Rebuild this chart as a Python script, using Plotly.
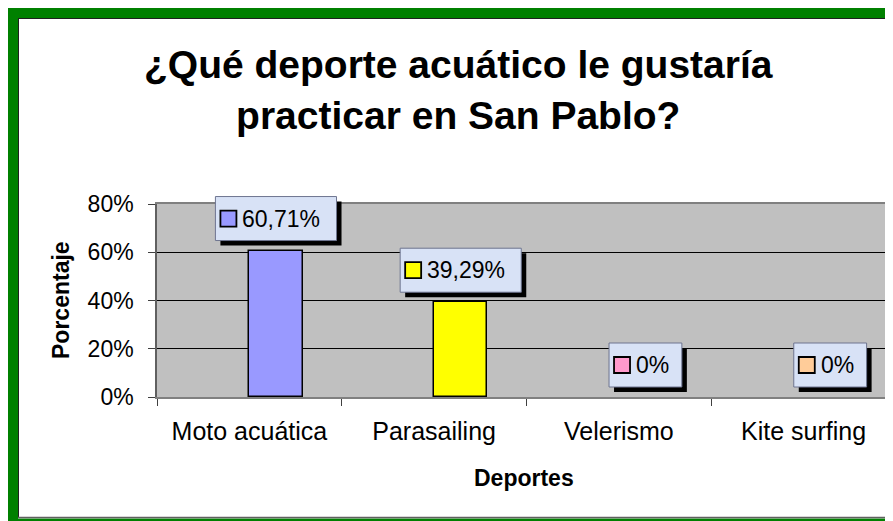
import plotly.graph_objects as go

# ---------------- data ----------------
categories = ["Moto acuática", "Parasailing", "Velerismo", "Kite surfing"]
values = [60.71, 39.29, 0, 0]
value_labels = ["60,71%", "39,29%", "0%", "0%"]
bar_colors = ["#9999FF", "#FFFF00", "#FF99CC", "#FFCC99"]
y_ticks = [0, 20, 40, 60, 80]
y_tick_labels = ["0%", "20%", "40%", "60%", "80%"]
title_lines = ["¿Qué deporte acuático le gustaría", "practicar en San Pablo?"]
x_title = "Deportes"
y_title = "Porcentaje"

# ---------------- layout constants ----------------
OFF = 8                      # page body margin
W, H = 893 - OFF, 521 - OFF
ML, MR, MT, MB = 157 - OFF, 0, 204 - OFF, H - (397 - OFF)
PW, PH = W - ML - MR, H - MT - MB
Y_MAX = 80
BAR_W = 0.288
FONT = "Liberation Sans, Arial, sans-serif"
GREEN = "#008000"


def px_x(x):
    """reference-screen pixel x -> paper coordinate"""
    return (x - OFF - ML) / PW


def px_y(y):
    """reference-screen pixel y -> paper coordinate"""
    return (H - MB - (y - OFF)) / PH


ARIAL_W = {"0": .556, "1": .556, "2": .556, "3": .556, "4": .556, "5": .556,
           "6": .556, "7": .556, "8": .556, "9": .556, ",": .278, "%": .889}


def box_width(t):
    return 37 + 24.8 * sum(ARIAL_W.get(c, .556) for c in t)


fig = go.Figure()
fig.add_trace(go.Bar(
    x=categories, y=values, width=BAR_W, offset=0,
    marker=dict(color=bar_colors,
                line=dict(color="black", width=[1.5 if v > 0 else 0 for v in values])),
    showlegend=False, hoverinfo="skip",
))

shapes = []
annotations = []

# data label boxes
for i, (v, lab, col) in enumerate(zip(values, value_labels, bar_colors)):
    xc = i + BAR_W / 2
    yc = v / Y_MAX
    bw = box_width(lab)
    common = dict(xref="x", yref="paper", xsizemode="pixel", ysizemode="pixel",
                  xanchor=xc, yanchor=yc, layer="above")
    shapes.append(dict(type="rect", x0=-bw / 2 + 5, x1=bw / 2 + 5, y0=5, y1=49,
                       fillcolor="black", line=dict(width=0), **common))
    shapes.append(dict(type="rect", x0=-bw / 2, x1=bw / 2, y0=10, y1=54,
                       fillcolor="#D8E2F6", line=dict(color="#6E7590", width=1), **common))
    shapes.append(dict(type="rect", x0=-bw / 2 + 5, x1=-bw / 2 + 21, y0=24, y1=40,
                       fillcolor=col, line=dict(color="black", width=1.8), **common))
    annotations.append(dict(
        x=xc, y=v, xref="x", yref="y", text=lab, showarrow=False,
        xanchor="left", yanchor="middle", xshift=-bw / 2 + 25, yshift=32,
        font=dict(family=FONT, size=23, color="black"),
    ))

# title and axis titles
annotations.append(dict(
    text="<br>".join(title_lines), xref="paper", yref="paper",
    x=px_x(458), y=px_y(90), xanchor="center", yanchor="middle", showarrow=False,
    font=dict(family=FONT, size=39, color="black", weight="bold"),
))
annotations.append(dict(
    text=x_title, xref="paper", yref="paper",
    x=px_x(524), y=px_y(478), xanchor="center", yanchor="middle", showarrow=False,
    font=dict(family=FONT, size=23, color="black", weight="bold"),
))
annotations.append(dict(
    text=y_title, xref="paper", yref="paper", textangle=-90,
    x=px_x(61), y=px_y(300), xanchor="center", yanchor="middle", showarrow=False,
    font=dict(family=FONT, size=23, color="black", weight="bold"),
))

# green frame (reference-screen pixels)
frame = [
    (8, 8, 18, 521, GREEN),
    (8, 8, 893, 18, GREEN),
    (8, 518.5, 893, 521, GREEN),
]
for x0, y0, x1, y1, c in frame:
    shapes.append(dict(type="rect", xref="paper", yref="paper",
                       x0=px_x(x0), x1=px_x(x1), y0=px_y(y0), y1=px_y(y1),
                       fillcolor=c, line=dict(width=0), layer="above"))
shapes.append(dict(type="line", xref="paper", yref="paper",
                   x0=px_x(18.5), x1=px_x(18.5), y0=px_y(18), y1=px_y(518),
                   line=dict(color="#202020", width=1), layer="above"))
shapes.append(dict(type="line", xref="paper", yref="paper",
                   x0=px_x(18), x1=px_x(893), y0=px_y(18.5), y1=px_y(18.5),
                   line=dict(color="#202020", width=1), layer="above"))
shapes.append(dict(type="line", xref="paper", yref="paper",
                   x0=px_x(18), x1=px_x(893), y0=px_y(517.5), y1=px_y(517.5),
                   line=dict(color="#606060", width=1.5), layer="above"))

fig.update_layout(
    width=W, height=H, autosize=False,
    margin=dict(l=ML, r=MR, t=MT, b=MB, pad=0),
    paper_bgcolor="white", plot_bgcolor="#C0C0C0",
    bargap=0,
    shapes=shapes, annotations=annotations,
    font=dict(family=FONT, color="black"),
)
fig.update_xaxes(
    type="category", range=[-0.5, 3.484], fixedrange=True,
    showgrid=False, showline=True, mirror=True, linecolor="#808080", linewidth=1.5,
    ticks="outside", tickson="boundaries", ticklen=7, tickcolor="#404040", tickwidth=1,
    tickfont=dict(family=FONT, size=25, color="black"), ticklabelstandoff=11,
)
fig.update_yaxes(
    range=[0, Y_MAX], fixedrange=True,
    tickvals=y_ticks, ticktext=y_tick_labels,
    showgrid=True, gridcolor="black", gridwidth=1,
    showline=True, linecolor="#606060", linewidth=1.5,
    ticks="outside", ticklen=7, tickcolor="#404040", tickwidth=1,
    tickfont=dict(family=FONT, size=23, color="black"), ticklabelstandoff=10,
    zeroline=False,
)

fig.write_html("out.html")
